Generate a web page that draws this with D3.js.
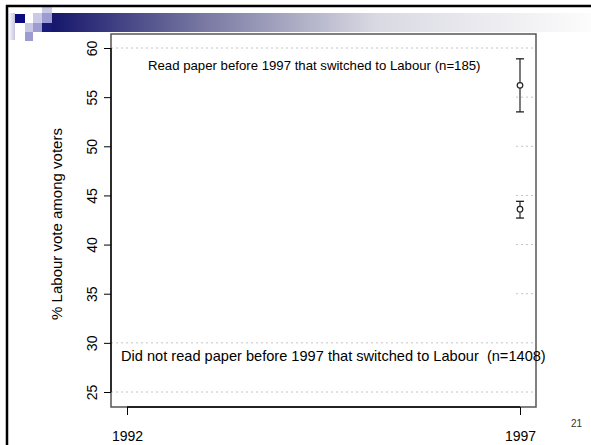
<!DOCTYPE html>
<html>
<head>
<meta charset="utf-8">
<script src="https://cdn.jsdelivr.net/npm/d3@7"></script>
<style>
  html, body { margin: 0; padding: 0; background: #fff; }
  svg { display: block; font-family: "Liberation Sans", Arial, sans-serif; }
</style>
</head>
<body>
<svg id="chart" width="591" height="445"></svg>
<script>
// Survey estimates: share voting Labour in 1997, by newspaper readership
const groups = ["Read paper before 1997 that switched to Labour (n=185)",
                "Did not read paper before 1997 that switched to Labour  (n=1408)"];
const years = [1997, 1997];
const estimates = [56.2, 43.6];
const lowerBounds = [53.5, 42.7];
const upperBounds = [58.9, 44.4];

const xTickValues = [1992, 1997];
const yTickValues = [25, 30, 35, 40, 45, 50, 55, 60];
const yTitle = "% Labour vote among voters";
const slideNumber = "21";

const svg = d3.select("#chart");

// ---- slide decoration ----
const defs = svg.append("defs");
const grad = defs.append("linearGradient").attr("id", "band").attr("x1", 0).attr("x2", 1);
grad.append("stop").attr("offset", 0).attr("stop-color", "#16166c");
grad.append("stop").attr("offset", 0.28).attr("stop-color", "#7878a2");
grad.append("stop").attr("offset", 0.6).attr("stop-color", "#d9d9e3");
grad.append("stop").attr("offset", 1).attr("stop-color", "#fcfcfc");
const fade = defs.append("linearGradient").attr("id", "fade").attr("x1", 0).attr("x2", 1);
fade.append("stop").attr("offset", 0).attr("stop-color", "#ffffff");
fade.append("stop").attr("offset", 1).attr("stop-color", "#c4c4e0");

svg.append("rect").attr("x", 52).attr("y", 13).attr("width", 539).attr("height", 19).attr("fill", "url(#band)");
svg.append("rect").attr("x", 8).attr("y", 13).attr("width", 7).attr("height", 27).attr("fill", "url(#fade)");
const squares = [
  [15, 14, 10, 9, "#0c0c80"],
  [33, 13, 9, 10, "#cacae6"],
  [42, 13, 10, 10, "#9c9cd2"],
  [42, 7, 10, 6, "#cacae6"],
  [25, 23, 8, 9, "#c8c8e4"],
  [33, 23, 9, 9, "#9c9cd2"],
  [42, 23, 10, 9, "#1a1a78"],
  [25, 32, 8, 9, "#9c9cd2"]
];
svg.append("g").selectAll("rect").data(squares).join("rect")
  .attr("x", d => d[0]).attr("y", d => d[1]).attr("width", d => d[2]).attr("height", d => d[3])
  .attr("fill", d => d[4]);
svg.append("line").attr("x1", 6).attr("x2", 591).attr("y1", 6).attr("y2", 6)
  .attr("stroke", "#000").attr("stroke-width", 2.5);
svg.append("line").attr("x1", 7).attr("x2", 7).attr("y1", 5).attr("y2", 445)
  .attr("stroke", "#000").attr("stroke-width", 2.5);

// ---- plot ----
const box = { left: 111, right: 536, top: 34, bottom: 407 };
const x = d3.scaleLinear().domain([1992, 1997]).range([127, 520]);
const y = d3.scaleLinear().domain([25, 60]).range([392, 48]);

// dotted reference lines at every tick
svg.append("g").selectAll("line").data(yTickValues).join("line")
  .attr("x1", box.left).attr("x2", box.right)
  .attr("y1", d => y(d)).attr("y2", d => y(d))
  .attr("stroke", "#c4c4c4").attr("stroke-width", 1).attr("stroke-dasharray", "2,3");

// text panel laid over the middle of the plot
svg.append("rect").attr("x", box.left + 1).attr("y", y(59.5)).attr("width", x(1997) - 4 - box.left - 1)
  .attr("height", y(30.5) - y(59.5)).attr("fill", "#fff");

// plot frame
svg.append("rect").attr("x", box.left).attr("y", box.top)
  .attr("width", box.right - box.left).attr("height", box.bottom - box.top)
  .attr("fill", "none").attr("stroke", "#555").attr("stroke-width", 1.5);

// axes
const yAxis = d3.axisLeft(y).tickValues(yTickValues).tickSize(7).tickPadding(4).tickFormat(d3.format("d"));
const gy = svg.append("g").attr("transform", `translate(${box.left},0)`).call(yAxis);
gy.select(".domain").attr("d", `M0,${y(25)}V${y(60)}`).attr("stroke", "#000").attr("stroke-width", 1.3);
gy.selectAll(".tick line").attr("stroke", "#000");
gy.selectAll(".tick text")
  .attr("font-size", 14).attr("font-family", "Liberation Sans, Arial, sans-serif").attr("fill", "#000")
  .attr("x", -19).attr("y", 0).attr("dy", "0.35em")
  .attr("transform", "rotate(-90,-19,0)")
  .attr("text-anchor", "middle");

const xAxis = d3.axisBottom(x).tickValues(xTickValues).tickSize(8).tickPadding(16).tickFormat(d3.format("d"));
const gx = svg.append("g").attr("transform", `translate(0,${box.bottom})`).call(xAxis);
gx.select(".domain").attr("d", `M${x(1992)},0H${x(1997)}`).attr("stroke", "#222").attr("stroke-width", 2);
gx.selectAll(".tick line").attr("stroke", "#000");
gx.selectAll(".tick text").attr("font-size", 14).attr("font-family", "Liberation Sans, Arial, sans-serif").attr("fill", "#000");

svg.append("text").attr("transform", "translate(62,224) rotate(-90)")
  .attr("text-anchor", "middle").attr("font-size", 15).attr("fill", "#000").text(yTitle);

// group labels
svg.append("text").attr("x", 148).attr("y", y(58.2)).attr("dy", "0.35em")
  .attr("font-size", 13.2).attr("fill", "#000").text(groups[0]);
svg.append("text").attr("x", 121).attr("y", y(28.7)).attr("dy", "0.35em")
  .attr("font-size", 14.6).attr("fill", "#000").style("white-space", "pre").text(groups[1]);

// error bars and estimates
const rows = estimates.map((v, i) => ({ year: years[i], v, lo: lowerBounds[i], hi: upperBounds[i] }));
const eb = svg.append("g").selectAll("g").data(rows).join("g");
eb.append("line").attr("x1", d => x(d.year)).attr("x2", d => x(d.year))
  .attr("y1", d => y(d.lo)).attr("y2", d => y(d.hi)).attr("stroke", "#444").attr("stroke-width", 1.4);
["lo", "hi"].forEach(k => {
  eb.append("line").attr("x1", d => x(d.year) - 4).attr("x2", d => x(d.year) + 4)
    .attr("y1", d => y(d[k])).attr("y2", d => y(d[k])).attr("stroke", "#222").attr("stroke-width", 1.3);
});
eb.append("circle").attr("cx", d => x(d.year)).attr("cy", d => y(d.v)).attr("r", 2.8)
  .attr("fill", "#fff").attr("stroke", "#222").attr("stroke-width", 1.2);

svg.append("text").attr("x", 571).attr("y", 427).attr("font-size", 10).attr("fill", "#333").text(slideNumber);
</script>
</body>
</html>
